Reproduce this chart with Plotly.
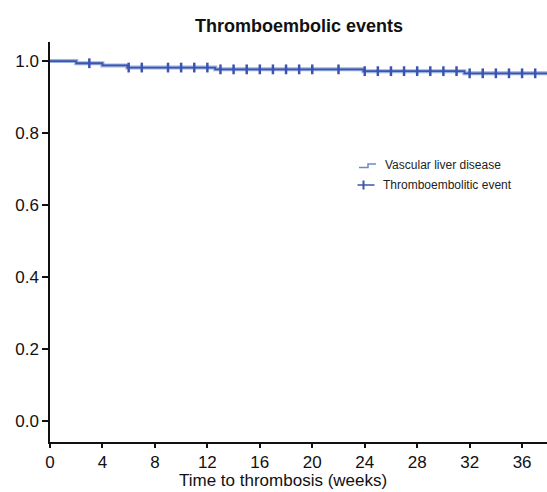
import numpy as np
import plotly.graph_objects as go

# Kaplan-Meier step data (weeks, survival)
event_times = [0, 2, 4, 5.9, 12.6, 23.9, 31.6, 37.9]
survival = [1.0, 0.994, 0.988, 0.982, 0.977, 0.972, 0.966, 0.966]
censor_times = [3, 6, 7, 9, 10, 11, 12, 13, 14, 15, 16, 17, 18, 19, 20,
                22, 24, 25, 26, 27, 28, 29, 30, 31, 32, 33, 34, 35, 36, 37]
x_ticks = [0, 4, 8, 12, 16, 20, 24, 28, 32, 36]
y_ticks = [0.0, 0.2, 0.4, 0.6, 0.8, 1.0]

# survival at censoring times (step function, right-continuous)
et = np.array(event_times)
sv = np.array(survival)
idx = np.searchsorted(et, np.array(censor_times), side="right") - 1
censor_y = sv[idx]

DARK = "#3a55b0"
LIGHT = "#9fb0e2"
FONT = "Arial, Liberation Sans, Helvetica, sans-serif"

fig = go.Figure()
fig.add_trace(go.Scatter(x=event_times, y=survival, mode="lines",
                         line=dict(color=LIGHT, width=4, shape="hv"),
                         hoverinfo="skip", showlegend=False))
fig.add_trace(go.Scatter(x=event_times, y=survival, mode="lines",
                         line=dict(color=DARK, width=1.8, shape="hv"),
                         name="Vascular liver disease", showlegend=False))
fig.add_trace(go.Scatter(x=censor_times, y=censor_y, mode="markers",
                         marker=dict(symbol="line-ns", size=7,
                                     line=dict(color=DARK, width=2.5)),
                         name="Thromboembolitic event", showlegend=False))

# custom legend (paper coords)
W, H = 547, 492
ml, mr, mt, mb = 50, 0, 42, 50
pw, ph = W - ml - mr, H - mt - mb
def px(x):
    return (x - ml) / pw
def py(y):
    return 1 - (y - mt) / ph

step_col = "#6f86cc"
shapes = [
    dict(type="path", xref="paper", yref="paper",
         path=f"M {px(359)},{py(167.5)} L {px(368)},{py(167.5)} L {px(368)},{py(164)} L {px(376)},{py(164)}",
         line=dict(color=step_col, width=1.5)),
    dict(type="line", xref="paper", yref="paper",
         x0=px(357.5), x1=px(374.5), y0=py(185), y1=py(185),
         line=dict(color=DARK, width=1.5)),
    dict(type="line", xref="paper", yref="paper",
         x0=px(363.5), x1=px(363.5), y0=py(180.5), y1=py(189.5),
         line=dict(color=DARK, width=2)),
]
annotations = [
    dict(text="Vascular liver disease", xref="paper", yref="paper",
         x=px(383), y=py(165), xanchor="left", yanchor="middle",
         showarrow=False, font=dict(family=FONT, size=12, color="#222")),
    dict(text="Thromboembolitic event", xref="paper", yref="paper",
         x=px(381), y=py(185), xanchor="left", yanchor="middle",
         showarrow=False, font=dict(family=FONT, size=12, color="#222")),
    dict(text="<b>Thromboembolic events</b>", xref="paper", yref="paper",
         x=px(299), y=py(26), xanchor="center", yanchor="middle",
         showarrow=False, font=dict(family=FONT, size=18, color="#111")),
    dict(text="Time to thrombosis (weeks)", xref="paper", yref="paper",
         x=px(283), y=py(491.5), xanchor="center", yanchor="bottom",
         showarrow=False, font=dict(family=FONT, size=17, color="#111")),
]

fig.update_layout(
    width=W, height=H,
    margin=dict(l=ml, r=mr, t=mt, b=mb, pad=0),
    paper_bgcolor="white", plot_bgcolor="white",
    font=dict(family=FONT, size=18, color="#111"),
    showlegend=False,
    shapes=shapes, annotations=annotations,
    xaxis=dict(range=[0, 37.9], tickvals=x_ticks, ticktext=[str(v) for v in x_ticks],
               showgrid=False, zeroline=False, showline=True, linecolor="#111",
               linewidth=1.5, ticks="outside", ticklen=4, tickwidth=1.5,
               tickcolor="#111", tickfont=dict(size=17)),
    yaxis=dict(range=[-0.058, 1.053], tickvals=y_ticks, ticktext=[f"{v:.1f}" for v in y_ticks],
               showgrid=False, zeroline=False, showline=True, linecolor="#111",
               linewidth=1.5, ticks="outside", ticklen=6, tickwidth=1.5,
               tickcolor="#111", tickfont=dict(size=17)),
)

fig.write_html("out.html", config={"displayModeBar": False},
               post_script="document.body.style.margin='0';document.body.style.overflow='hidden';")
